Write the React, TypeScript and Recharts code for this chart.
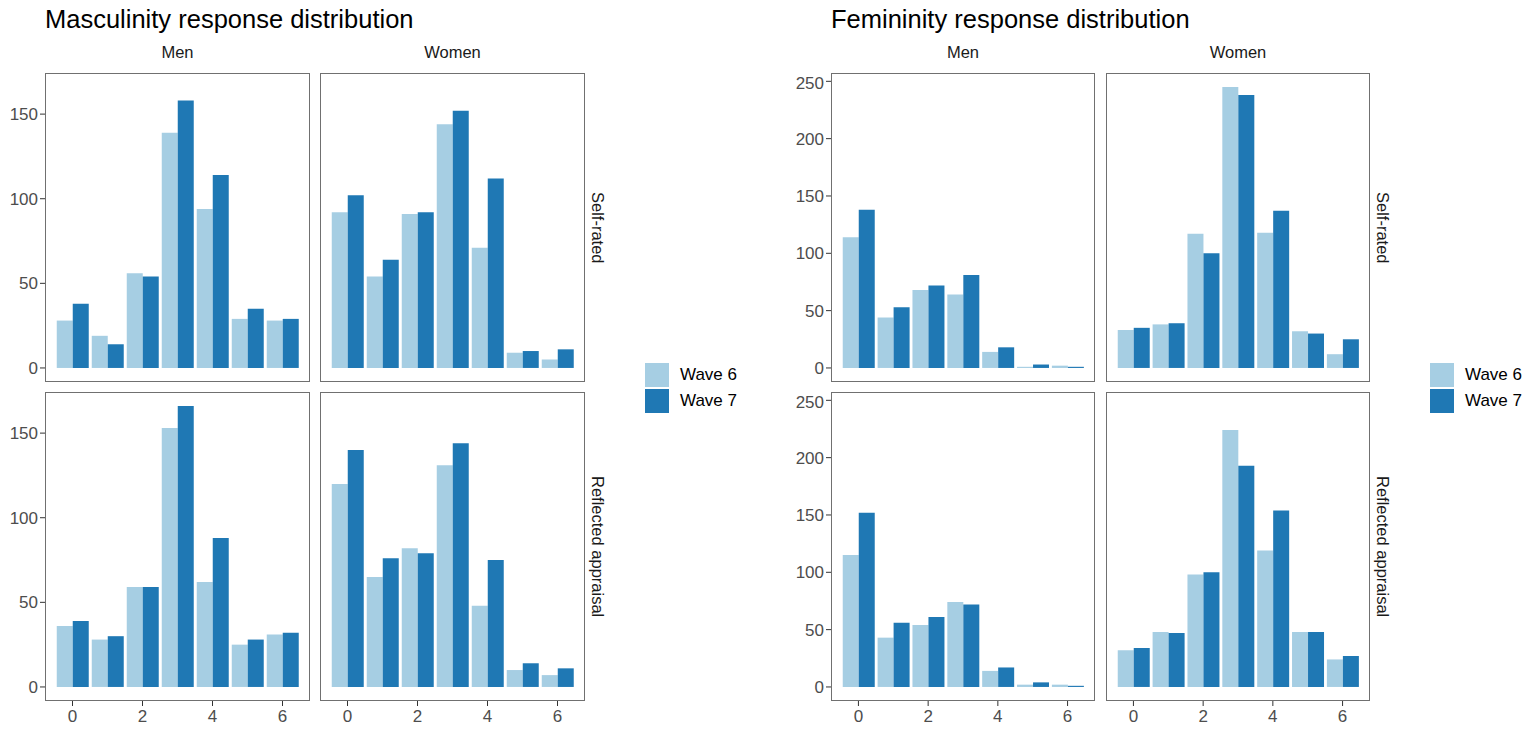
import { BarChart, Bar, XAxis, YAxis } from 'recharts'

const scores = [0, 1, 2, 3, 4, 5, 6]

// Masculinity, self-rated
const mascSelfMenW6 = [28, 19, 56, 139, 94, 29, 28]
const mascSelfMenW7 = [38, 14, 54, 158, 114, 35, 29]
const mascSelfWomenW6 = [92, 54, 91, 144, 71, 9, 5]
const mascSelfWomenW7 = [102, 64, 92, 152, 112, 10, 11]
// Masculinity, reflected appraisal
const mascReflMenW6 = [36, 28, 59, 153, 62, 25, 31]
const mascReflMenW7 = [39, 30, 59, 166, 88, 28, 32]
const mascReflWomenW6 = [120, 65, 82, 131, 48, 10, 7]
const mascReflWomenW7 = [140, 76, 79, 144, 75, 14, 11]

// Femininity, self-rated
const femSelfMenW6 = [114, 44, 68, 64, 14, 1, 2]
const femSelfMenW7 = [138, 53, 72, 81, 18, 3, 1]
const femSelfWomenW6 = [33, 38, 117, 245, 118, 32, 12]
const femSelfWomenW7 = [35, 39, 100, 238, 137, 30, 25]
// Femininity, reflected appraisal
const femReflMenW6 = [115, 43, 54, 74, 14, 2, 2]
const femReflMenW7 = [152, 56, 61, 72, 17, 4, 1]
const femReflWomenW6 = [32, 48, 98, 224, 119, 48, 24]
const femReflWomenW7 = [34, 47, 100, 193, 154, 48, 27]

const mascTicks = [0, 50, 100, 150]
const femTicks = [0, 50, 100, 150, 200, 250]
const waves = ['Wave 6', 'Wave 7']
const genders = ['Men', 'Women']
const rowLabels = ['Self-rated', 'Reflected appraisal']

const W6 = '#a6cee3'
const W7 = '#1f78b4'
const FONT = '"Liberation Sans", Arial, Helvetica, sans-serif'

const ROW_Y = [73, 392]
const PANEL_H = 309
const X_AXIS_H = 34
const Y_AXIS_W = 60

const toRows = (a: number[], b: number[]) => scores.map((s, i) => ({ score: s, w6: a[i], w7: b[i] }))

function Panel({ left, top, width, data, showY, showX, domain, ticks }: any) {
  const chartLeft = showY ? left - Y_AXIS_W : left
  const w = width + (showY ? Y_AXIS_W : 0)
  const h = PANEL_H + (showX ? X_AXIS_H : 0)
  return (
    <>
      <div style={{ position: 'absolute', left: chartLeft, top }}>
        <BarChart width={w} height={h} data={data} margin={{ top: 0, right: 0, bottom: 0, left: 0 }}
          barCategoryGap="5%" barGap={0}>
          <XAxis dataKey="score" hide={!showX} height={X_AXIS_H} interval={1} padding={{ left: 10, right: 10 }}
            axisLine={false} tickLine={{ stroke: '#333' }} tickSize={5} tickMargin={4}
            tick={{ fill: '#4d4d4d', fontSize: 17, fontFamily: FONT }} />
          <YAxis hide={!showY} width={Y_AXIS_W} type="number" domain={domain} ticks={ticks} allowDataOverflow
            axisLine={false} tickLine={{ stroke: '#333' }} tickSize={5} tickMargin={2}
            tick={{ fill: '#4d4d4d', fontSize: 17, fontFamily: FONT }} />
          <Bar dataKey="w6" fill={W6} isAnimationActive={false} />
          <Bar dataKey="w7" fill={W7} isAnimationActive={false} />
        </BarChart>
      </div>
      <div style={{ position: 'absolute', left, top, width, height: PANEL_H, boxSizing: 'border-box',
        border: '1.3px solid #707070', pointerEvents: 'none' }} />
    </>
  )
}

function Facets({ title, x0, width, gap, sets, domain, ticks }: any) {
  const lefts = [x0, x0 + width + gap]
  const stripX = lefts[1] + width + 13
  const legendX = lefts[1] + width + 60
  return (
    <>
      <div style={{ position: 'absolute', left: x0, top: 6, fontSize: 25.5, lineHeight: '26px', color: '#000' }}>{title}</div>
      {genders.map((g, ci) => (
        <div key={g} style={{ position: 'absolute', left: lefts[ci], top: 44, width, textAlign: 'center',
          fontSize: 16.5, lineHeight: '16px', color: '#1a1a1a' }}>{g}</div>
      ))}
      {rowLabels.map((r, ri) => (
        <div key={r} style={{ position: 'absolute', left: stripX - 9, top: ROW_Y[ri], height: PANEL_H, width: 18,
          writingMode: 'vertical-rl', textAlign: 'center', fontSize: 16.5, lineHeight: '18px', color: '#1a1a1a' }}>{r}</div>
      ))}
      {sets.map((rowSets: any[], ri: number) => rowSets.map((d: any, ci: number) => (
        <Panel key={`${ri}-${ci}`} left={lefts[ci]} top={ROW_Y[ri]} width={width} data={d}
          showY={ci === 0} showX={ri === 1} domain={domain} ticks={ticks} />
      )))}
      {waves.map((wv, i) => (
        <div key={wv} style={{ position: 'absolute', left: legendX, top: 363 + i * 26, height: 24,
          display: 'flex', alignItems: 'center' }}>
          <div style={{ width: 24, height: 24, background: i === 0 ? W6 : W7 }} />
          <div style={{ marginLeft: 11, fontSize: 17, color: '#000' }}>{wv}</div>
        </div>
      ))}
    </>
  )
}

export default function App() {
  const masc = [
    [toRows(mascSelfMenW6, mascSelfMenW7), toRows(mascSelfWomenW6, mascSelfWomenW7)],
    [toRows(mascReflMenW6, mascReflMenW7), toRows(mascReflWomenW6, mascReflWomenW7)],
  ]
  const fem = [
    [toRows(femSelfMenW6, femSelfMenW7), toRows(femSelfWomenW6, femSelfWomenW7)],
    [toRows(femReflMenW6, femReflMenW7), toRows(femReflWomenW6, femReflWomenW7)],
  ]
  return (
    <div style={{ position: 'absolute', left: 0, top: 0, width: 1535, height: 734, background: '#fff',
      fontFamily: FONT, overflow: 'hidden' }}>
      <Facets title="Masculinity response distribution" x0={45} width={265} gap={10} sets={masc}
        domain={[-8.3, 174.3]} ticks={mascTicks} />
      <Facets title="Femininity response distribution" x0={831} width={264} gap={11} sets={fem}
        domain={[-12.25, 257.25]} ticks={femTicks} />
    </div>
  )
}
